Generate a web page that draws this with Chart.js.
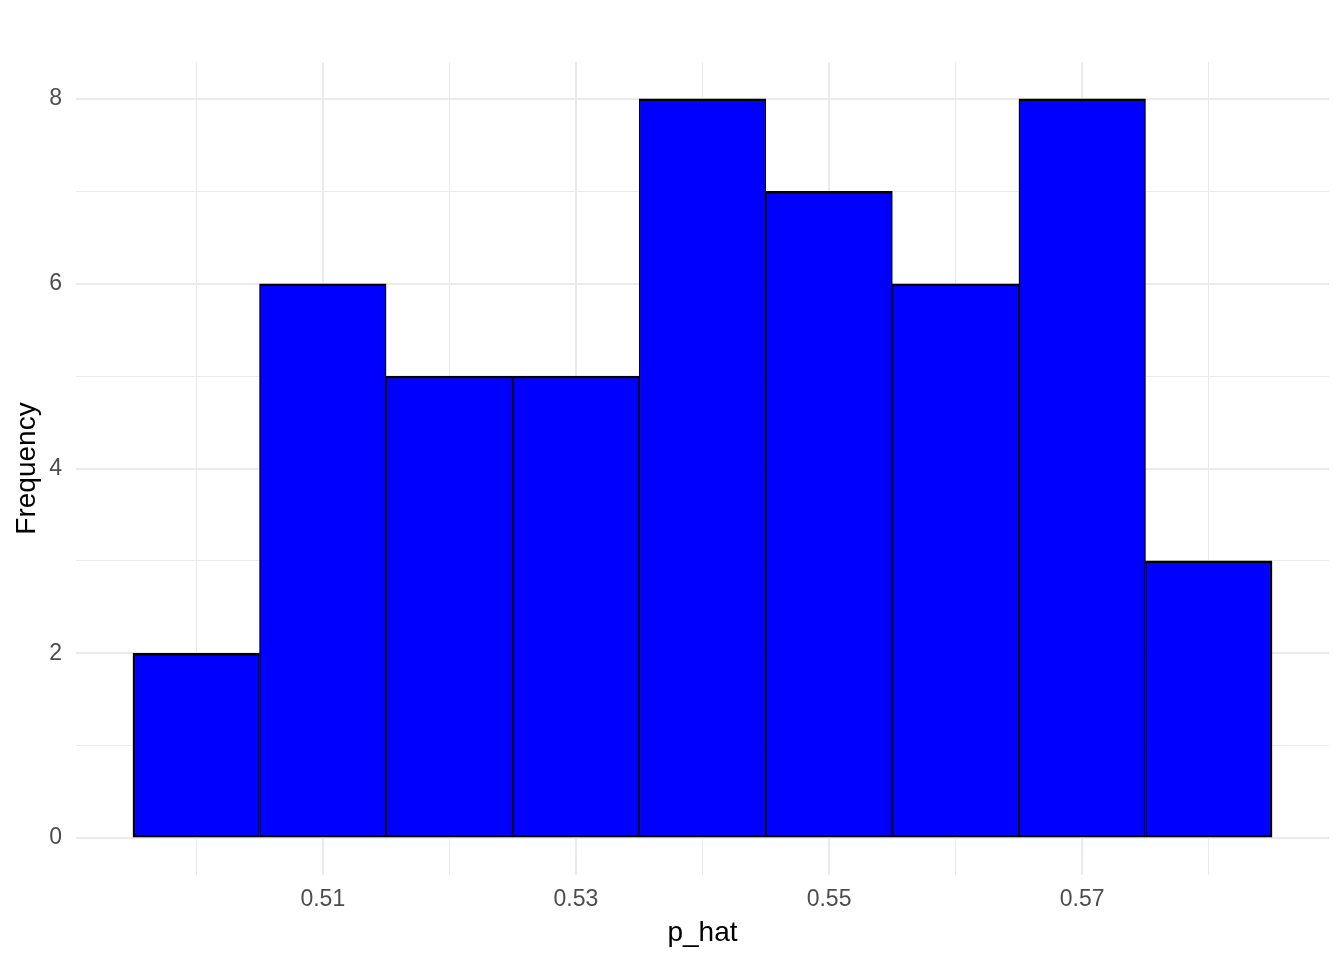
<!DOCTYPE html>
<html>
<head>
<meta charset="utf-8">
<title>p_hat histogram</title>
<script src="https://cdn.jsdelivr.net/npm/chart.js@4/dist/chart.umd.min.js"></script>
<style>
    html, body { margin: 0; padding: 0; background: #ffffff; }
    #histChart { display: block; }
</style>
</head>
<body>
<canvas id="histChart" width="1344" height="960"></canvas>
<script>
// --- DATA ---
const binCenters = [0.50, 0.51, 0.52, 0.53, 0.54, 0.55, 0.56, 0.57, 0.58];
const counts = [2, 6, 5, 5, 8, 7, 6, 8, 3];

// x breaks: labelled ones are major, the others minor
const xTickValues = [0.50, 0.51, 0.52, 0.53, 0.54, 0.55, 0.56, 0.57, 0.58];
const xTickLabels = ['', '0.51', '', '0.53', '', '0.55', '', '0.57', ''];
const yTickValues = [0, 1, 2, 3, 4, 5, 6, 7, 8];
const yTickLabels = ['0', '', '2', '', '4', '', '6', '', '8'];

const GRID = '#ebebeb';
const FONT = "'Liberation Sans', Arial, Helvetica, sans-serif";

const chart = {
    init() {
        const ctx = document.getElementById('histChart').getContext('2d');
        const lastIdx = counts.length - 1;

        new Chart(ctx, {
            type: 'bar',
            data: {
                datasets: [{
                    label: 'Frequency',
                    data: binCenters.map((x, i) => ({ x: x, y: counts[i] })),
                    backgroundColor: '#0000ff',
                    borderColor: '#000000',
                    // shared edges get half from each side so they look like one line
                    borderWidth: (c) => ({
                        top: 2.5,
                        bottom: 2.5,
                        left: c.dataIndex === 0 ? 2.5 : 1.25,
                        right: c.dataIndex === lastIdx ? 2.5 : 1.25
                    }),
                    borderSkipped: false,
                    barPercentage: 1,
                    categoryPercentage: 1
                }]
            },
            options: {
                responsive: false,
                animation: false,
                devicePixelRatio: 1,
                layout: { padding: { top: 62, right: 15, left: 0, bottom: 0 } },
                plugins: {
                    legend: { display: false },
                    tooltip: { enabled: false }
                },
                scales: {
                    x: {
                        type: 'linear',
                        min: 0.4905,
                        max: 0.5895,
                        offset: false,
                        border: { display: false },
                        afterBuildTicks: (scale) => {
                            scale.ticks = xTickValues.map(v => ({ value: v }));
                        },
                        afterFit: (scale) => { scale.height = 85; },
                        grid: {
                            offset: false,
                            color: GRID,
                            lineWidth: (c) => (xTickLabels[c.index] ? 2 : 1),
                            drawTicks: false
                        },
                        ticks: {
                            autoSkip: false,
                            maxRotation: 0,
                            padding: 11,
                            color: '#4d4d4d',
                            font: { family: FONT, size: 23 },
                            callback: (value, index) => xTickLabels[index]
                        },
                        title: {
                            display: true,
                            text: 'p_hat',
                            color: '#000000',
                            font: { family: FONT, size: 28 },
                            padding: { top: 0, bottom: 10 }
                        }
                    },
                    y: {
                        type: 'linear',
                        min: -0.4,
                        max: 8.4,
                        border: { display: false },
                        afterBuildTicks: (scale) => {
                            scale.ticks = yTickValues.map(v => ({ value: v }));
                        },
                        afterFit: (scale) => { scale.width = 76; },
                        grid: {
                            color: GRID,
                            lineWidth: (c) => (yTickLabels[c.index] ? 2 : 1),
                            drawTicks: false
                        },
                        ticks: {
                            autoSkip: false,
                            padding: 14,
                            color: '#4d4d4d',
                            font: { family: FONT, size: 23 },
                            callback: (value, index) => yTickLabels[index]
                        },
                        title: {
                            display: true,
                            text: 'Frequency',
                            color: '#000000',
                            font: { family: FONT, size: 28 },
                            padding: { top: 10, bottom: 0 }
                        }
                    }
                }
            }
        });
    }
};

document.addEventListener('DOMContentLoaded', () => chart.init());
</script>
</body>
</html>
